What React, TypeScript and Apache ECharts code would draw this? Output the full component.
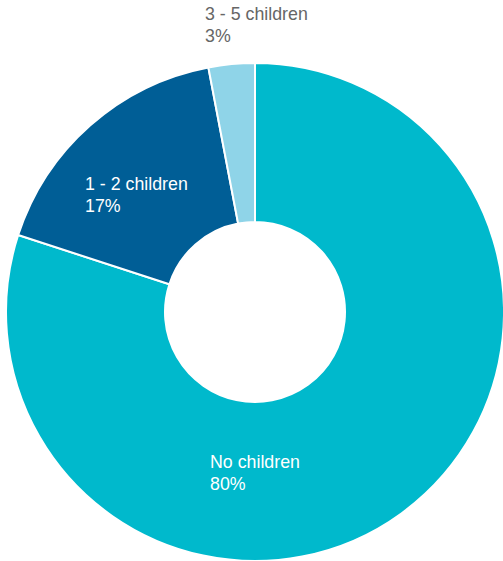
import React, { useEffect, useRef } from "react";
import * as echarts from "echarts";

const categories = ["No children", "1 - 2 children", "3 - 5 children"];
const values = [80, 17, 3];
const colors = ["#00B9CC", "#005E96", "#8FD4E8"];
const labelColors = ["#ffffff", "#ffffff", "#666666"];
const labelPos = [
  [210, 451],
  [85, 173],
  [205, 3],
];

export default function App() {
  const ref = useRef<HTMLDivElement>(null);
  useEffect(() => {
    document.body.style.margin = "0";
    const chart = echarts.init(ref.current!, null, { renderer: "svg" });
    chart.setOption({
      animation: false,
      backgroundColor: "#ffffff",
      series: [
        {
          type: "pie",
          center: [255, 312],
          radius: [90, 249],
          startAngle: 90,
          clockwise: true,
          avoidLabelOverlap: false,
          itemStyle: { borderColor: "#ffffff", borderWidth: 2 },
          label: {
            show: true,
            position: "inside",
            formatter: "{b}\n{c}%",
            fontFamily: "Liberation Sans, Arial, Helvetica, sans-serif",
            fontSize: 17.8,
            lineHeight: 22,
            align: "left",
          },
          labelLine: { show: false },
          labelLayout: (params: any) => ({
            x: labelPos[params.dataIndex][0],
            y: labelPos[params.dataIndex][1],
            align: "left",
            verticalAlign: "top",
          }),
          emphasis: { disabled: true },
          data: categories.map((name, i) => ({
            name,
            value: values[i],
            itemStyle: { color: colors[i] },
            label: { color: labelColors[i] },
          })),
        },
      ],
    });
    return () => chart.dispose();
  }, []);
  return <div ref={ref} style={{ width: 503, height: 561 }} />;
}
